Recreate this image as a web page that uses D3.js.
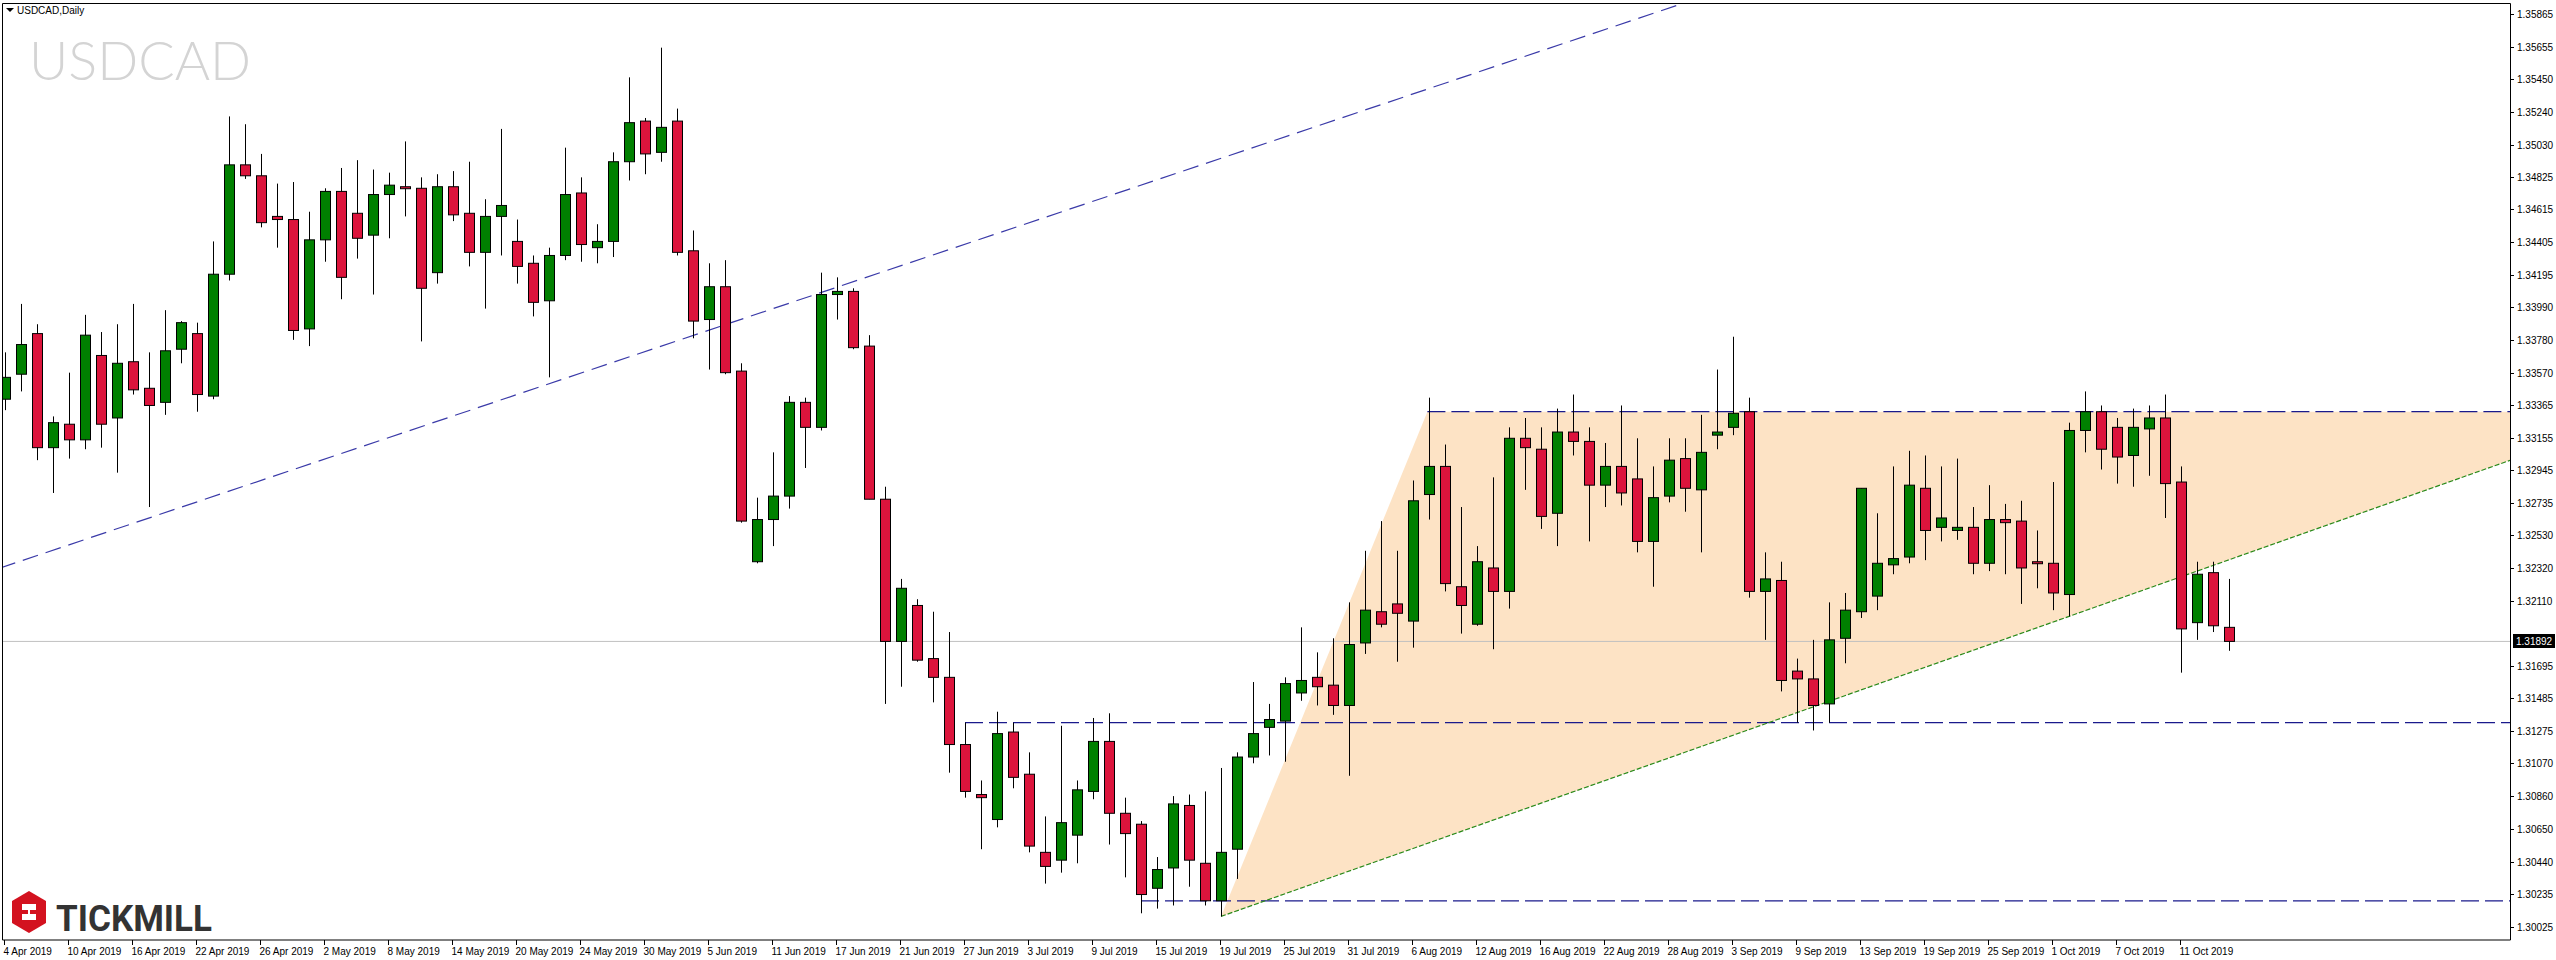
<!DOCTYPE html>
<html>
<head>
<meta charset="utf-8">
<style>
  body { margin: 0; background: #fff; }
  svg { display: block; font-family: "Liberation Sans", Arial, sans-serif; }
</style>
<script src="https://cdn.jsdelivr.net/npm/d3@7/dist/d3.min.js"></script>
</head>
<body>
<svg width="2556" height="960"></svg>
<script>
// daily candles, 4 Apr 2019 .. 16 Oct 2019 (weekdays)
var open = [1.3340,1.3356,1.3382,1.3309,1.3324,1.3314,1.3368,1.3328,1.3364,1.3347,
  1.3338,1.3372,1.3382,1.3342,1.3420,1.3490,1.3483,1.3457,1.3455,1.3385,
  1.3442,1.3473,1.3459,1.3445,1.3471,1.3476,1.3475,1.3421,1.3476,1.3459,
  1.3434,1.3457,1.3441,1.3427,1.3403,1.3432,1.3472,1.3437,1.3441,1.3492,
  1.3518,1.3498,1.3518,1.3435,1.3391,1.3412,1.3358,1.3236,1.3263,1.3278,
  1.3338,1.3322,1.3407,1.3409,1.3374,1.3276,1.3185,1.3208,1.3174,1.3162,
  1.3119,1.3087,1.3071,1.3127,1.3100,1.3050,1.3045,1.3061,1.3089,1.3121,
  1.3075,1.3068,1.3027,1.3040,1.3080,1.3043,1.3019,1.3052,1.3111,1.3130,
  1.3134,1.3152,1.3162,1.3157,1.3144,1.3184,1.3204,1.3209,1.3198,1.3279,
  1.3297,1.3220,1.3196,1.3232,1.3217,1.3315,1.3308,1.3267,1.3319,1.3313,
  1.3285,1.3297,1.3289,1.3249,1.3278,1.3302,1.3282,1.3317,1.3322,1.3332,
  1.3217,1.3224,1.3166,1.3161,1.3145,1.3187,1.3204,1.3214,1.3234,1.3239,
  1.3283,1.3258,1.3256,1.3258,1.3235,1.3263,1.3262,1.3236,1.3235,1.3215,
  1.3320,1.3332,1.3322,1.3304,1.3321,1.3328,1.3287,1.3197,1.3229,1.3194];
var high = [1.3370,1.3401,1.3388,1.3329,1.3357,1.3394,1.3383,1.3388,1.3401,1.3370,
  1.3397,1.3390,1.3389,1.3441,1.3521,1.3516,1.3497,1.3478,1.3479,1.3460,
  1.3475,1.3488,1.3493,1.3487,1.3485,1.3505,1.3482,1.3484,1.3486,1.3492,
  1.3468,1.3513,1.3455,1.3432,1.3437,1.3501,1.3482,1.3452,1.3498,1.3546,
  1.3520,1.3565,1.3526,1.3448,1.3427,1.3429,1.3363,1.3277,1.3306,1.3342,
  1.3341,1.3421,1.3418,1.3411,1.3381,1.3284,1.3225,1.3212,1.3204,1.3191,
  1.3133,1.3096,1.3140,1.3133,1.3114,1.3073,1.3131,1.3096,1.3136,1.3139,
  1.3085,1.3070,1.3047,1.3086,1.3087,1.3089,1.3104,1.3114,1.3159,1.3145,
  1.3162,1.3194,1.3178,1.3187,1.3210,1.3243,1.3262,1.3243,1.3288,1.3341,
  1.3311,1.3271,1.3246,1.3290,1.3322,1.3328,1.3322,1.3334,1.3343,1.3322,
  1.3312,1.3336,1.3315,1.3297,1.3315,1.3315,1.3330,1.3359,1.3380,1.3341,
  1.3242,1.3236,1.3174,1.3186,1.3210,1.3216,1.3283,1.3267,1.3297,1.3307,
  1.3304,1.3297,1.3302,1.3271,1.3285,1.3273,1.3275,1.3256,1.3287,1.3325,
  1.3345,1.3336,1.3328,1.3334,1.3336,1.3343,1.3297,1.3236,1.3236,1.3225];
var low = [1.3333,1.3345,1.3301,1.3280,1.3302,1.3308,1.3309,1.3293,1.3343,1.3271,
  1.3330,1.3363,1.3332,1.3340,1.3416,1.3481,1.3450,1.3437,1.3378,1.3374,
  1.3428,1.3404,1.3430,1.3407,1.3443,1.3457,1.3377,1.3414,1.3454,1.3425,
  1.3398,1.3432,1.3414,1.3393,1.3354,1.3429,1.3428,1.3427,1.3431,1.3480,
  1.3484,1.3492,1.3432,1.3379,1.3359,1.3356,1.3261,1.3235,1.3246,1.3270,
  1.3296,1.3320,1.3391,1.3372,1.3276,1.3145,1.3156,1.3172,1.3146,1.3101,
  1.3085,1.3052,1.3066,1.3091,1.3050,1.3030,1.3037,1.3043,1.3084,1.3055,
  1.3034,1.3011,1.3014,1.3016,1.3028,1.3016,1.3009,1.3033,1.3107,1.3112,
  1.3108,1.3147,1.3144,1.3138,1.3099,1.3177,1.3194,1.3172,1.3181,1.3263,
  1.3217,1.3190,1.3195,1.3180,1.3206,1.3282,1.3257,1.3246,1.3304,1.3249,
  1.3271,1.3272,1.3242,1.3220,1.3274,1.3268,1.3242,1.3308,1.3317,1.3213,
  1.3186,1.3153,1.3133,1.3128,1.3133,1.3171,1.3200,1.3205,1.3228,1.3235,
  1.3237,1.3249,1.3250,1.3228,1.3230,1.3228,1.3209,1.3219,1.3205,1.3201,
  1.3306,1.3295,1.3286,1.3284,1.3291,1.3264,1.3165,1.3186,1.3191,1.3179];
var close = [1.3354,1.3375,1.3309,1.3325,1.3314,1.3381,1.3324,1.3363,1.3346,1.3336,
  1.3371,1.3389,1.3343,1.3420,1.3490,1.3483,1.3453,1.3455,1.3384,1.3442,
  1.3473,1.3418,1.3443,1.3471,1.3477,1.3475,1.3411,1.3476,1.3458,1.3434,
  1.3457,1.3464,1.3425,1.3402,1.3432,1.3471,1.3439,1.3441,1.3492,1.3517,
  1.3497,1.3514,1.3434,1.3390,1.3412,1.3357,1.3262,1.3263,1.3278,1.3338,
  1.3322,1.3407,1.3409,1.3373,1.3276,1.3185,1.3219,1.3173,1.3162,1.3119,
  1.3089,1.3085,1.3126,1.3098,1.3054,1.3041,1.3069,1.3090,1.3121,1.3075,
  1.3062,1.3023,1.3039,1.3081,1.3045,1.3019,1.3050,1.3111,1.3126,1.3135,
  1.3158,1.3160,1.3156,1.3144,1.3183,1.3205,1.3196,1.3203,1.3275,1.3297,
  1.3222,1.3208,1.3236,1.3217,1.3315,1.3309,1.3265,1.3319,1.3313,1.3285,
  1.3297,1.3280,1.3249,1.3277,1.3301,1.3283,1.3306,1.3319,1.3331,1.3217,
  1.3225,1.3160,1.3161,1.3144,1.3186,1.3205,1.3283,1.3235,1.3238,1.3285,
  1.3256,1.3264,1.3258,1.3235,1.3263,1.3261,1.3232,1.3235,1.3216,1.3320,
  1.3332,1.3308,1.3303,1.3322,1.3328,1.3286,1.3193,1.3228,1.3195,1.3185];

var xTickLabels = ["4 Apr 2019","10 Apr 2019","16 Apr 2019","22 Apr 2019","26 Apr 2019",
  "2 May 2019","8 May 2019","14 May 2019","20 May 2019","24 May 2019","30 May 2019",
  "5 Jun 2019","11 Jun 2019","17 Jun 2019","21 Jun 2019","27 Jun 2019","3 Jul 2019",
  "9 Jul 2019","15 Jul 2019","19 Jul 2019","25 Jul 2019","31 Jul 2019","6 Aug 2019",
  "12 Aug 2019","16 Aug 2019","22 Aug 2019","28 Aug 2019","3 Sep 2019","9 Sep 2019",
  "13 Sep 2019","19 Sep 2019","25 Sep 2019","1 Oct 2019","7 Oct 2019","11 Oct 2019"];
var yTickLabels = ["1.35865","1.35655","1.35450","1.35240","1.35030","1.34825","1.34615",
  "1.34405","1.34195","1.33990","1.33780","1.33570","1.33365","1.33155","1.32945","1.32735",
  "1.32530","1.32320","1.32110","1.31695","1.31485","1.31275","1.31070","1.30860",
  "1.30650","1.30440","1.30235","1.30025"];
var lastPrice = "1.31892";

// drawn objects: [barIndex, price]
var channelLine = [[-0.31, 1.3232], [105.06, 1.3594]];
var supportLine = [[76, 1.3009], [156.6, 1.3301]];
var resistance = [[88.9, 1.3332], [156.6, 1.3332]];
var midLevel = [[60, 1.3133], [156.6, 1.3133]];
var lowLevel = [[71, 1.3019], [156.6, 1.3019]];
var triangle = [[76, 1.3009], [88.9, 1.3332], [156.6, 1.3332], [156.6, 1.3301]];

var svg = d3.select("svg");
var plotRight = 2510, plotTop = 3, plotBottom = 940;

var x = d3.scaleLinear().domain([0, 139]).range([5, 2229]);
var y = d3.scaleLinear().domain([1.35955, 1.35955 - 0.000064 * 960]).range([0, 960]);

svg.append("clipPath").attr("id", "plot")
  .append("rect").attr("x", 2).attr("y", plotTop).attr("width", plotRight - 2).attr("height", plotBottom - plotTop);

var g = svg.append("g").attr("clip-path", "url(#plot)");
var line = d3.line().x(function (d) { return x(d[0]); }).y(function (d) { return y(d[1]); });

g.append("path").attr("d", line(triangle) + "Z").attr("fill", "#fde3c5");

// current price line
g.append("line").attr("x1", 2).attr("x2", plotRight)
  .attr("y1", y(close[139])).attr("y2", y(close[139]))
  .attr("stroke", "#c0c0c0").attr("stroke-width", 1);

[resistance, midLevel, lowLevel].forEach(function (l) {
  g.append("path").attr("d", line(l)).attr("fill", "none")
    .attr("stroke", "#1a1a8c").attr("stroke-width", 1.2).attr("stroke-dasharray", "18,6");
});
g.append("path").attr("d", line(channelLine)).attr("fill", "none")
  .attr("stroke", "#3a3aa8").attr("stroke-width", 1.2).attr("stroke-dasharray", "16,8");
g.append("path").attr("d", line(supportLine)).attr("fill", "none")
  .attr("stroke", "#2a8a1a").attr("stroke-width", 1.2).attr("stroke-dasharray", "5,2");

var idx = d3.range(open.length);
g.selectAll(".wick").data(idx).enter().append("line")
  .attr("x1", function (i) { return Math.round(x(i)) + 0.5; })
  .attr("x2", function (i) { return Math.round(x(i)) + 0.5; })
  .attr("y1", function (i) { return y(high[i]); })
  .attr("y2", function (i) { return y(low[i]); })
  .attr("stroke", "#000").attr("stroke-width", 1);
g.selectAll(".body").data(idx).enter().append("rect")
  .attr("x", function (i) { return Math.round(x(i)) - 4.5; })
  .attr("y", function (i) { return y(Math.max(open[i], close[i])); })
  .attr("width", 10)
  .attr("height", function (i) { return Math.max(2, Math.abs(y(open[i]) - y(close[i]))); })
  .attr("fill", function (i) { return close[i] >= open[i] ? "#008000" : "#dc143c"; })
  .attr("stroke", "#000").attr("stroke-width", 1);

// frame
svg.append("path").attr("d", "M2.5," + plotBottom + "V" + (plotTop + 0.5) + "H" + (plotRight + 0.5) + "V" + plotBottom + "H2.5")
  .attr("fill", "none").attr("stroke", "#000").attr("stroke-width", 1);

// price axis
var ya = svg.append("g");
yTickLabels.forEach(function (t) {
  var yy = Math.round(y(+t)) + 0.5;
  ya.append("line").attr("x1", plotRight).attr("x2", plotRight + 4).attr("y1", yy).attr("y2", yy).attr("stroke", "#000");
  ya.append("text").attr("x", plotRight + 7).attr("y", yy + 3.5).attr("font-size", 10).text(t);
});
var py = Math.round(y(close[139]));
ya.append("rect").attr("x", plotRight + 3).attr("y", py - 7).attr("width", 42).attr("height", 14).attr("fill", "#000");
ya.append("text").attr("x", plotRight + 6).attr("y", py + 3.5).attr("font-size", 10).attr("fill", "#fff").text(lastPrice);

// time axis
var xa = svg.append("g");
xTickLabels.forEach(function (t, k) {
  var xx = Math.round(x(k * 4)) - 0.5;
  xa.append("line").attr("x1", xx).attr("x2", xx).attr("y1", plotBottom).attr("y2", plotBottom + 5).attr("stroke", "#000");
  xa.append("text").attr("x", xx - 1).attr("y", plotBottom + 15).attr("font-size", 10).text(t);
});

// header and watermark
svg.append("path").attr("d", "M6,8H14L10,12Z").attr("fill", "#000");
svg.append("text").attr("x", 17).attr("y", 14).attr("font-size", 10).text("USDCAD,Daily");
svg.append("text").attr("x", 29).attr("y", 80).attr("font-size", 54).attr("font-family", "Lato, 'Open Sans', sans-serif")
  .attr("font-weight", 300).attr("fill", "#d4d4d4").text("USDCAD");

// logo
var logo = svg.append("g").attr("transform", "translate(12,891)");
logo.append("path").attr("d", "M17,0L34,10V32L17,42L0,32V10Z").attr("fill", "#d3121f");
logo.append("path").attr("d", "M10,13H24V19H16V23H24V29H10V23H18V19H10Z").attr("fill", "#fff");
svg.append("text").attr("x", 56).attr("y", 931).attr("font-size", 36).attr("font-weight", 700)
  .attr("font-family", "Roboto, 'DejaVu Sans', sans-serif").attr("fill", "#333")
  .attr("textLength", 156).attr("lengthAdjust", "spacingAndGlyphs").text("TICKMILL");
</script>
</body>
</html>
